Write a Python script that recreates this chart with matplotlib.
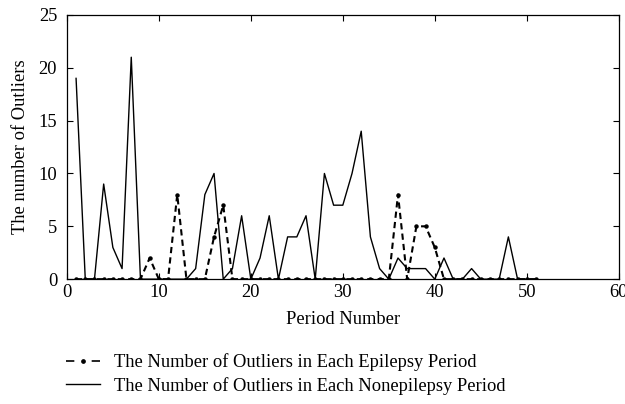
import matplotlib
matplotlib.use("Agg")
import matplotlib.pyplot as plt
from matplotlib.lines import Line2D

plt.rcParams['font.family'] = ['Liberation Serif', 'DejaVu Serif']

periods = list(range(1, 52))
epilepsy = [0, 0, 0, 0, 0, 0, 0, 0, 2, 0,
            0, 8, 0, 0, 0, 4, 7, 0, 0, 0,
            0, 0, 0, 0, 0, 0, 0, 0, 0, 0,
            0, 0, 0, 0, 0, 8, 0, 5, 5, 3,
            0, 0, 0, 0, 0, 0, 0, 0, 0, 0, 0]
nonepilepsy = [19, 0, 0, 9, 3, 1, 21, 0, 0, 0,
               0, 0, 0, 1, 8, 10, 0, 1, 6, 0,
               2, 6, 0, 4, 4, 6, 0, 10, 7, 7,
               10, 14, 4, 1, 0, 2, 1, 1, 1, 0,
               2, 0, 0, 1, 0, 0, 0, 4, 0, 0, 0]
xticks = [0, 10, 20, 30, 40, 50, 60]
yticks = [0, 5, 10, 15, 20, 25]
label_epi = "The Number of Outliers in Each Epilepsy Period"
label_non = "The Number of Outliers in Each Nonepilepsy Period"

FS = 13.3

fig = plt.figure(figsize=(6.25, 4.04), dpi=100)
ax = fig.add_axes([0.107, 0.309, 0.883, 0.654])

ax.plot(periods, nonepilepsy, color='black', lw=1.0, ls='-')
ax.plot(periods, epilepsy, color='black', lw=1.5, ls=(0, (3, 2)),
        marker='o', markersize=2.2)

ax.set_xlim(0, 60)
ax.set_ylim(0, 25)
ax.set_xticks(xticks)
ax.set_yticks(yticks)
ax.tick_params(direction='in', top=True, right=True, length=4, width=0.8,
               labelsize=FS)
ax.tick_params(axis='x', pad=3.5)
ax.tick_params(axis='y', pad=7)
for s in ax.spines.values():
    s.set_linewidth(0.9)
ax.set_xlabel("Period Number", fontsize=FS, labelpad=7)
ax.set_ylabel("The number of Outliers", fontsize=FS, labelpad=7)

handles = [
    Line2D([], [], color='black', lw=1.2, ls=(0, (5, 10.4)), marker='o', markersize=2.4),
    Line2D([], [], color='black', lw=1.0, ls='-'),
]
fig.legend(handles, [label_epi, label_non], loc='center left',
           bbox_to_anchor=(0.1056, 0.074), bbox_transform=fig.transFigure,
           frameon=False, fontsize=FS, borderpad=0,
           handlelength=1.85, handletextpad=0.75, labelspacing=0.3,
           borderaxespad=0)

fig.savefig("out.png", dpi=100)
